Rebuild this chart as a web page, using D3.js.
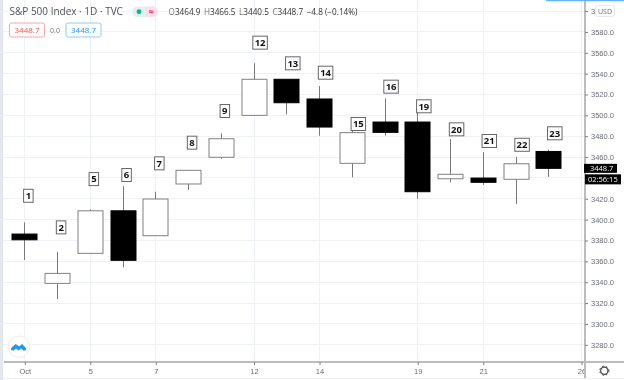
<!DOCTYPE html>
<html>
<head>
<meta charset="utf-8">
<script src="https://cdn.jsdelivr.net/npm/d3@7"></script>
<style>
html, body { margin: 0; padding: 0; background: #fff; }
svg { display: block; font-family: "Open Sans", "Liberation Sans", sans-serif; filter: blur(0.35px); }
</style>
</head>
<body>
<svg id="chart" width="624" height="380"></svg>
<script>
// values
const dayNumbers = [1, 2, 5, 6, 7, 8, 9, 12, 13, 14, 15, 16, 19, 20, 21, 22, 23];
const opens = [3385.7, 3338.4, 3367.2, 3408, 3384.1, 3433.7, 3459.3, 3499.5, 3534.1, 3515.2, 3453.5, 3493.1, 3493.1, 3438.7, 3439.4, 3438.2, 3464.9];
const highs = [3396.9, 3368.7, 3409.4, 3431.7, 3426.3, 3447, 3482.3, 3549.4, 3534.1, 3527.6, 3488.6, 3515.8, 3503, 3476.8, 3464.3, 3459.8, 3466.5];
const lows = [3360.8, 3323.4, 3367.2, 3353.8, 3384.1, 3427.9, 3457.9, 3499.5, 3500.5, 3480, 3440.1, 3480, 3419.6, 3435.3, 3432.7, 3414.5, 3440.5];
const closes = [3380.2, 3348, 3408, 3360.5, 3419.3, 3446.8, 3477.1, 3534.1, 3511.6, 3488.3, 3482.9, 3483.2, 3426.3, 3443, 3435.3, 3453.1, 3448.7];
const labelPrices = [3422.4, 3392.1, 3438.4, 3442.3, 3453.5, 3473.3, 3503.7, 3569.2, 3549.4, 3540.4, 3491.2, 3527, 3508.2, 3486.1, 3474.9, 3471.3, 3482.3];
const priceTicks = d3.range(3280, 3601, 20);
const timeTickIdx = [0, 2, 4, 7, 9, 12, 14, 17];
const timeTickLabels = ["Oct", "5", "7", "12", "14", "19", "21", "26"];
const lastPrice = 3448.7;
const countdown = "02:56:15";
const legendOHLC = [["O", "3464.9"], ["H", "3466.5"], ["L", "3440.5"], ["C", "3448.7"]];
const legendChange = "\u22124.8 (\u22120.14%)";
const title = "S&P 500 Index \u00b7 1D \u00b7 TVC";

// layout
const width = 624, height = 380;
const paneRight = 585, paneBottom = 362, paneLeft = 3;
const bodyWidth = 25;
const gridColor = "#eef2f6", axisColor = "#bcbcbc", textColor = "#6a6d78", wickColor = "#787878";

const svg = d3.select("#chart");
const x = d3.scaleLinear().domain([0, 17]).range([24.3, 581]);
const y = d3.scaleLinear().domain([3280, 3580]).range([344.3, 31.4]);

svg.append("rect").attr("width", width).attr("height", height).attr("fill", "#fff");

// grid
const grid = svg.append("g");
grid.selectAll("line.h").data(priceTicks).enter().append("line").attr("class", "h")
    .attr("x1", paneLeft).attr("x2", paneRight)
    .attr("y1", d => Math.round(y(d)) + 0.5).attr("y2", d => Math.round(y(d)) + 0.5)
    .attr("stroke", gridColor);
grid.selectAll("line.v").data(timeTickIdx).enter().append("line").attr("class", "v")
    .attr("x1", d => Math.round(x(d)) + 0.5).attr("x2", d => Math.round(x(d)) + 0.5)
    .attr("y1", 0).attr("y2", paneBottom)
    .attr("stroke", gridColor);

// candles
const candles = svg.append("g").selectAll("g").data(dayNumbers).enter().append("g");
candles.append("line")
    .attr("x1", (d, i) => Math.round(x(i)) + 0.5).attr("x2", (d, i) => Math.round(x(i)) + 0.5)
    .attr("y1", (d, i) => y(highs[i])).attr("y2", (d, i) => y(lows[i]))
    .attr("stroke", wickColor);
candles.append("rect")
    .attr("x", (d, i) => Math.round(x(i)) + 0.5 - bodyWidth / 2)
    .attr("width", bodyWidth)
    .attr("y", (d, i) => y(Math.max(opens[i], closes[i])))
    .attr("height", (d, i) => Math.abs(y(opens[i]) - y(closes[i])))
    .attr("fill", (d, i) => closes[i] >= opens[i] ? "#fff" : "#000")
    .attr("stroke", (d, i) => closes[i] >= opens[i] ? "#808080" : "#000")
    .attr("stroke-width", 1);

// numbered boxes above the candles
const notes = svg.append("g").selectAll("g").data(dayNumbers).enter().append("g")
    .attr("transform", (d, i) => `translate(${x(i) - 0.7},${y(labelPrices[i])})`);
notes.append("rect")
    .attr("x", 0).attr("y", -6.5)
    .attr("width", d => d < 10 ? 9.5 : 14.5).attr("height", 13)
    .attr("fill", "#fff").attr("stroke", "#666");
notes.append("text")
    .attr("x", d => d < 10 ? 4.75 : 7.25).attr("y", 3.4)
    .attr("text-anchor", "middle").attr("font-size", 9.5).attr("font-weight", 700)
    .attr("fill", "#111")
    .text(d => d);

// time axis
svg.append("rect").attr("x", paneLeft + 1).attr("y", paneBottom - 1).attr("width", width).attr("height", 2).attr("fill", axisColor);
const xAxis = d3.axisBottom(x)
    .tickValues(timeTickIdx)
    .tickSize(3)
    .tickFormat((d, i) => timeTickLabels[i]);
const xAxisG = svg.append("g").attr("transform", `translate(0.5,${paneBottom})`).call(xAxis);
xAxisG.select(".domain").remove();
xAxisG.selectAll("line").attr("stroke", "#808080");
xAxisG.selectAll("text").attr("font-size", 7.5).attr("fill", textColor).attr("font-family", "inherit").attr("y", 7);
svg.append("line").attr("x1", 0).attr("x2", width).attr("y1", 378.5).attr("y2", 378.5).attr("stroke", "#eef0f3");

// price axis: 3440 sits behind the last price tags, 3600 behind the USD button
svg.append("rect").attr("x", paneRight - 1).attr("y", 0).attr("width", 2).attr("height", 378).attr("fill", axisColor);
const yAxis = d3.axisRight(y)
    .tickValues(priceTicks)
    .tickSize(3)
    .tickPadding(3)
    .tickFormat(d => d === 3440 ? "" : d === 3600 ? "3" : d3.format(".1f")(d));
const yAxisG = svg.append("g").attr("transform", `translate(${paneRight},0.5)`).call(yAxis);
yAxisG.select(".domain").remove();
yAxisG.selectAll("line").attr("stroke", "#808080");
yAxisG.selectAll("text").attr("font-size", 7.5).attr("fill", textColor).attr("font-family", "inherit");

// last price and countdown tags
svg.append("rect").attr("x", paneRight - 1).attr("y", y(lastPrice) - 4.5).attr("width", 33).attr("height", 9).attr("fill", "#000");
svg.append("rect").attr("x", paneRight).attr("y", y(lastPrice) + 6).attr("width", 36).attr("height", 10).attr("fill", "#000");
svg.append("text").attr("x", 590).attr("y", y(lastPrice) + 2.8).attr("font-size", 7.5).attr("fill", "#fff").text(d3.format(".1f")(lastPrice));
svg.append("text").attr("x", 588).attr("y", y(lastPrice) + 13.7).attr("font-size", 7.5).attr("fill", "#fff").text(countdown);

// USD button
svg.append("rect").attr("x", 595.5).attr("y", 5.5).attr("width", 19).attr("height", 11).attr("rx", 2.5)
    .attr("fill", "#fff").attr("stroke", "#e8e9ee");
svg.append("text").attr("x", 605).attr("y", 13.5).attr("text-anchor", "middle").attr("font-size", 7).attr("fill", textColor).text("USD");

// header
svg.append("text").attr("x", 9.5).attr("y", 15).attr("font-size", 10).attr("fill", "#50535e").text(title);

svg.append("rect").attr("x", 132).attr("y", 6.5).attr("width", 26).attr("height", 10.5).attr("rx", 5).attr("fill", "#def2ef");
svg.append("path").attr("d", "M145 6.5h8a5 5 0 0 1 5 5v.5a5 5 0 0 1 -5 5h-8z").attr("fill", "#fbe0ea");
svg.append("circle").attr("cx", 139).attr("cy", 11.7).attr("r", 2.4).attr("fill", "#26a69a");
svg.append("text").attr("x", 151).attr("y", 14.6).attr("text-anchor", "middle").attr("font-size", 9).attr("font-weight", 700).attr("fill", "#e91e63").text("\u2248");

const legend = svg.append("text").attr("x", 168.5).attr("y", 15.3).attr("font-size", 8.2);
legendOHLC.forEach(([k, v], i) => {
    legend.append("tspan").attr("dx", i ? 3.5 : 0).attr("fill", "#777").text(k);
    legend.append("tspan").attr("fill", "#333").text(v);
});
legend.append("tspan").attr("dx", 3.5).attr("fill", "#333").text(legendChange);

const pills = [
    { x: 9.5, w: 35, stroke: "#f6a6a6", color: "#ef5350" },
    { x: 66, w: 35, stroke: "#8ecbf8", color: "#2196f3" }
];
svg.selectAll("g.pill").data(pills).enter().append("g").attr("class", "pill")
    .each(function (d) {
        const g = d3.select(this);
        g.append("rect").attr("x", d.x).attr("y", 23).attr("width", d.w).attr("height", 14).attr("rx", 2)
            .attr("fill", "#fff").attr("stroke", d.stroke);
        g.append("text").attr("x", d.x + d.w / 2).attr("y", 33).attr("text-anchor", "middle")
            .attr("font-size", 8).attr("fill", d.color).text(d3.format(".1f")(lastPrice));
    });
svg.append("text").attr("x", 55).attr("y", 32.5).attr("text-anchor", "middle").attr("font-size", 7).attr("fill", "#777").text("0.0");

// window edges
svg.append("rect").attr("x", 0).attr("y", 0).attr("width", 3).attr("height", height).attr("fill", "#e4e6f0");
svg.append("rect").attr("x", 546).attr("y", 0).attr("width", 78).attr("height", 1.2).attr("fill", "#5fb5f6");

// logo
svg.append("circle").attr("cx", 19).attr("cy", 346.7).attr("r", 10.7).attr("fill", "#fff").attr("stroke", "#e9ecef");
svg.append("path")
    .attr("d", "M12.2 350.5c-1.6 0-1.6-2.4-.3-3.2l3.8-3.2 3.4 2.5 3-2.6 3.2 3.4c1.2.9 1 3.1-.4 3.1h-1.6l-2.1-2-2.6 2-2.6-2-2.2 2z")
    .attr("fill", "#2196f3");

// settings gear
svg.append("circle").attr("cx", 604.3).attr("cy", 370.7).attr("r", 3.6).attr("fill", "none").attr("stroke", "#444").attr("stroke-width", 1.2);
svg.append("circle").attr("cx", 604.3).attr("cy", 370.7).attr("r", 4.6).attr("fill", "none").attr("stroke", "#444").attr("stroke-width", 1).attr("stroke-dasharray", "1.6 2.2");
</script>
</body>
</html>
